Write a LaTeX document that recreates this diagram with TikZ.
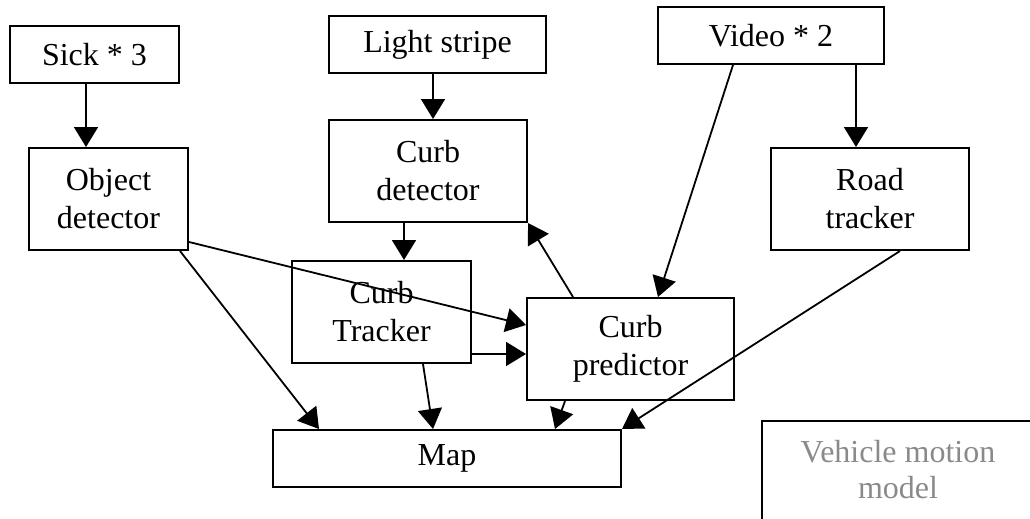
\documentclass[tikz,border=0pt]{standalone}
\usepackage{fontspec}
\setmainfont{Liberation Serif}
\usetikzlibrary{arrows.meta}
\definecolor{lightgraytext}{HTML}{8A8A8A}
\begin{document}
\begin{tikzpicture}[x=1pt,y=-1pt,
  box/.style={draw,line width=2pt,rectangle,inner sep=0pt,align=center,
    font=\fontsize{32}{38}\selectfont},
  arr/.style={line width=1.8pt,-{Triangle[length=20pt,width=24pt]}},
]
\useasboundingbox (0,0) rectangle (1030,519);
\node[box,minimum width=169pt,minimum height=57pt] (sick) at (94.5,54.5) {Sick * 3};
\node[box,minimum width=217pt,minimum height=57pt] (light) at (437.5,44.5) {Light stripe};
\node[box,minimum width=226pt,minimum height=57pt] (video) at (771,35.5) {Video * 2};
\node[box,minimum width=159pt,minimum height=102pt] (objdet) at (108.5,199) {Object\\detector};
\node[box,minimum width=198pt,minimum height=102pt] (curbdet) at (428,171) {Curb\\detector};
\node[box,minimum width=198pt,minimum height=102pt] (road) at (870,199) {Road\\tracker};
\node[box,minimum width=179pt,minimum height=102pt] (tracker) at (381.5,312) {Curb\\Tracker};
\node[box,minimum width=207pt,minimum height=102pt] (pred) at (630.5,349) {Curb\\predictor};
\node[box,minimum width=348pt,minimum height=57pt] (map) at (447,458.5) {Map};
\begin{scope}
\clip (0,0) rectangle (1030,519);
\node[draw,line width=1.6pt,rectangle,inner sep=0pt,minimum width=290pt,minimum height=120pt,
  anchor=north west] (vmm) at (761,420) {};
\end{scope}
\node[align=center,text=lightgraytext,font=\fontsize{32}{36}\selectfont] (vmmtext) at (898,470) {Vehicle motion\\model};

\draw[arr] ([xshift=-8.5pt]sick.south) -- ([xshift=-22.5pt]objdet.north);
\draw[arr] ([xshift=-4.5pt]light.south) -- ([xshift=5pt]curbdet.north);
\draw[arr] ([xshift=85pt]video.south) -- ([xshift=-14pt]road.north);
\draw[arr] ([xshift=-38pt]video.south) -- ([xshift=27.5pt]pred.north);
\draw[arr] ([xshift=-57.5pt]pred.north) -- (curbdet.south east);
\draw[arr] ([xshift=-24pt]curbdet.south) -- ([xshift=22.5pt]tracker.north);
\draw[arr] ([yshift=-43pt]objdet.east) -- ([yshift=24pt]pred.west);
\draw[arr] ([yshift=-42pt]tracker.east) -- ([yshift=-5pt]pred.west);
\draw[arr] ([xshift=71.5pt]objdet.south) -- ([xshift=-128pt]map.north);
\draw[arr] ([xshift=41.5pt]tracker.south) -- ([xshift=-14pt]map.north);
\draw[arr] ([xshift=-65.5pt]pred.south) -- ([xshift=108pt]map.north);
\draw[arr] ([xshift=30pt]road.south) -- (map.north east);
\end{tikzpicture}
\end{document}
